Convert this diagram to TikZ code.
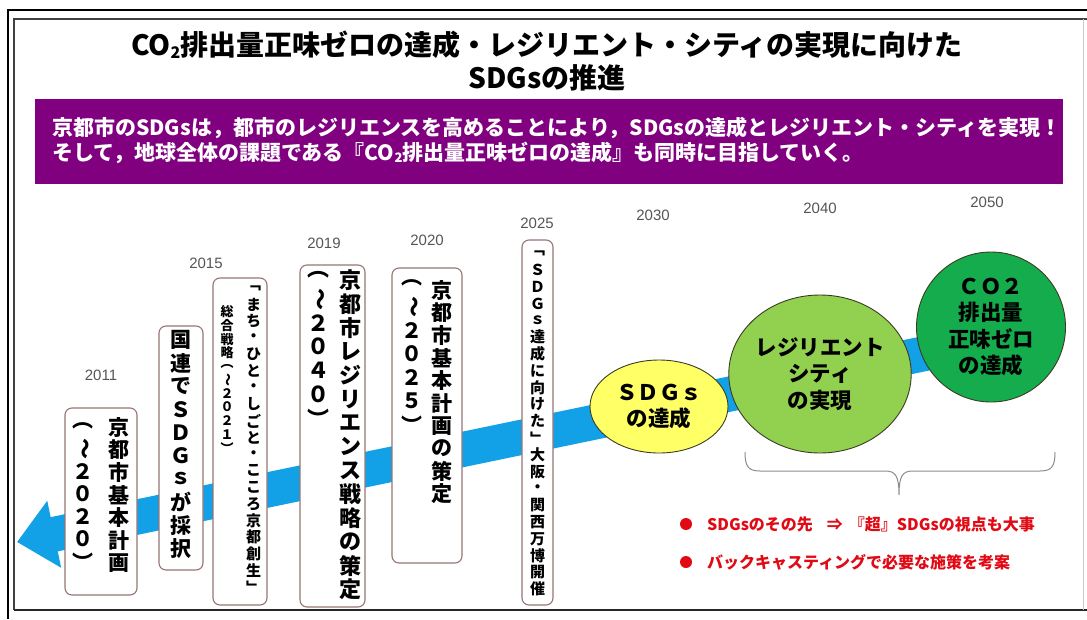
\documentclass[tikz,border=0pt]{standalone}
\usepackage{fontspec}
\usepackage{graphicx}
\setmainfont{Noto Sans CJK JP}
\newfontfamily\yearfont{Liberation Sans}
\usetikzlibrary{shapes.geometric,arrows.meta}

\definecolor{kpurple}{RGB}{128,0,128}
\definecolor{kblue}{RGB}{18,160,230}
\definecolor{kyellow}{RGB}{255,255,102}
\definecolor{klgreen}{RGB}{146,208,80}
\definecolor{kdgreen}{RGB}{20,172,76}
\definecolor{circb}{RGB}{60,60,35}
\definecolor{boxb}{RGB}{150,118,118}
\definecolor{kred}{RGB}{225,10,20}
\definecolor{yeargray}{RGB}{85,85,85}
\definecolor{bracegray}{RGB}{140,140,140}

\newlength\tatecell
\def\tateend{\tateend}
\newcommand\tate[3]{\vbox{\fontsize{#1}{#1}\selectfont\bfseries\setlength\tatecell{#2}\offinterlineskip\tateloop#3\tateend}}
\def\tateloop#1{\ifx\tateend#1\else\tatechar{#1}\expandafter\tateloop\fi}
\def\tatechar#1{\hbox to 1.1em{\hss\vbox to\tatecell{\vss\hbox{#1}\vss}\hss}}
\newcommand\rtilde{\rotatebox[origin=c]{-90}{～}}

\begin{document}
\begin{tikzpicture}[x=1pt,y=-1pt,
  tbox/.style={draw=boxb, fill=white, rounded corners=7pt, line width=1.1pt, inner sep=0pt},
  col/.style={anchor=north, inner sep=0pt},
  yr/.style={font={\yearfont\fontsize{15}{15}\selectfont}, text=yeargray, inner sep=0pt},
  circ/.style={ellipse, draw=circb, line width=0.9pt, inner sep=0pt, align=center, font={\fontsize{21.5}{26.5}\selectfont\bfseries}},
  redtxt/.style={anchor=west, inner sep=0pt, text=kred, font={\fontsize{16}{16}\selectfont\bfseries}},
  bullet/.style={circle, fill=kred, minimum size=12pt, inner sep=0pt},
  band/.style={line width=35pt, draw=kblue, -{Triangle[length=38pt,width=66pt]}}
]
\useasboundingbox (0,0) rectangle (1087,619);
\fill[white] (0,0) rectangle (1087,619);

% frame
\draw[line width=2.6pt, black] (8,619) -- (8,10) -- (1087,10);
\draw[line width=1.2pt, black!75] (14,610) -- (14,19) -- (1087,19);
\draw[line width=1.4pt, black!85] (14,610) -- (1087,610);
\draw[line width=0.6pt, black!20] (1083,19) -- (1083,610);

% title
\node[inner sep=0pt, font={\fontsize{28}{30}\selectfont\bfseries}] (title1) at (547,45)
  {CO\raisebox{-3pt}{\fontsize{16}{16}\selectfont 2}排出量正味ゼロの達成・レジリエント・シティの実現に向けた};
\node[inner sep=0pt, font={\fontsize{28}{30}\selectfont\bfseries}] (title2) at (547,78) {SDGsの推進};

% purple banner
\node[fill=kpurple, minimum width=1028pt, minimum height=85pt, inner sep=0pt] (banner) at (549,141.5) {};
\node[anchor=west, inner sep=0pt, text=white, font={\fontsize{21}{21}\selectfont\bfseries}] (ban1) at (52,128)
  {京都市のSDGsは，都市のレジリエンスを高めることにより，SDGsの達成とレジリエント・シティを実現！};
\node[anchor=west, inner sep=0pt, text=white, font={\fontsize{21}{21}\selectfont\bfseries}] (ban2) at (52,153)
  {そして，地球全体の課題である『CO\raisebox{-2pt}{\fontsize{13}{13}\selectfont 2}排出量正味ゼロの達成』も同時に目指していく。};

% blue band arrow
\coordinate (bandend) at (990,340);
\coordinate (bandtip) at (17,542);
\draw[band] (bandend) -- (bandtip);

% years
\node[yr] (y2011) at (101,375) {2011};
\node[yr] (y2015) at (206,263) {2015};
\node[yr] (y2019) at (324,243) {2019};
\node[yr] (y2020) at (427,240) {2020};
\node[yr] (y2025) at (537,223) {2025};
\node[yr] (y2030) at (653,215) {2030};
\node[yr] (y2040) at (820,208) {2040};
\node[yr] (y2050) at (987,202) {2050};

% box 1 (2011)
\node[tbox, minimum width=72pt, minimum height=187pt] (b1) at (101,501.5) {};
\node[col] (b1r) at (119,415.6) {\tate{21}{22.7pt}{京都市基本計画}};
\node[col] (b1l) at (83,414.8) {\tate{21}{22.5pt}{︵{\rtilde}２０２０︶}};

% box 2 (2015)
\node[tbox, minimum width=44pt, minimum height=244pt] (b2) at (181,448) {};
\node[col] (b2c) at (181,328.5) {\tate{21}{23.1pt}{国連でＳＤＧｓが採択}};

% box 3 (2015)
\node[tbox, minimum width=54pt, minimum height=327pt] (b3) at (240,441.5) {};
\node[col] (b3r) at (253.5,279.7) {\tate{15}{16.6pt}{﹁まち・ひと・しごと・こころ京都創生﹂}};
\node[col] (b3l) at (227,304.9) {\tate{13}{13.6pt}{総合戦略︵{\rtilde}２０２１︶}};

% box 4 (2019)
\node[tbox, minimum width=65pt, minimum height=342pt] (b4) at (332.5,436) {};
\node[col] (b4r) at (350,268.1) {\tate{22}{23.8pt}{京都市レジリエンス戦略の策定}};
\node[col] (b4l) at (318,263.1) {\tate{22}{23.8pt}{︵{\rtilde}２０４０︶}};

% box 5 (2020)
\node[tbox, minimum width=70pt, minimum height=295pt] (b5) at (427,415.5) {};
\node[col] (b5r) at (442,278.7) {\tate{21}{22.6pt}{京都市基本計画の策定}};
\node[col] (b5l) at (412,271.3) {\tate{21}{23.5pt}{︵{\rtilde}２０２５︶}};

% box 6 (2025)
\node[tbox, minimum width=31pt, minimum height=365pt] (b6) at (537.5,422.5) {};
\node[col] (b6c) at (537.5,244.6) {\tate{15}{16.8pt}{﹁ＳＤＧｓ達成に向けた﹂大阪・関西万博開催}};

% goal circles
\node[circ, fill=kyellow, minimum width=138pt, minimum height=93pt] (sdg) at (659,406.5) {ＳＤＧｓ\\の達成};
\node[circ, fill=klgreen, minimum width=172pt, minimum height=158pt] (res) at (820,374) {レジリエント\\シティ\\の実現};
\node[circ, fill=kdgreen, minimum width=149pt, minimum height=150pt] (co2) at (991,327) {ＣＯ２\\排出量\\正味ゼロ\\の達成};

% brace
\draw[bracegray, line width=1pt]
  (745,452) .. controls (745,466) and (748,471) .. (760,471) -- (885,471)
  .. controls (895,471) and (899,475) .. (899,495)
  .. controls (899,475) and (903,471) .. (913,471) -- (1040,471)
  .. controls (1052,471) and (1055,466) .. (1055,452);

% red notes
\node[bullet] (bul1) at (686,524) {};
\node[bullet] (bul2) at (686,562) {};
\node[redtxt] (note1) at (707,524) {SDGsのその先\hspace{14pt}⇒\hspace{6pt}『超』SDGsの視点も大事};
\node[redtxt] (note2) at (707,562) {バックキャスティングで必要な施策を考案};
\end{tikzpicture}
\end{document}
